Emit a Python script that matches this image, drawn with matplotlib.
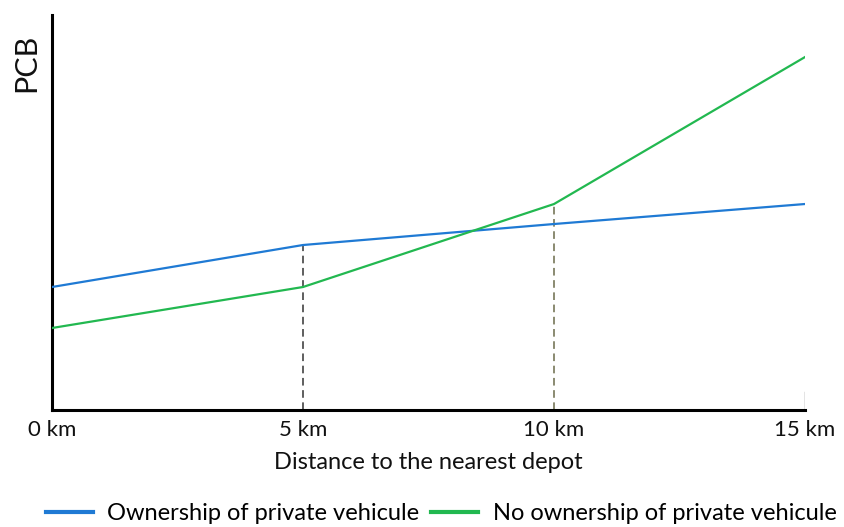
import matplotlib.pyplot as plt
from matplotlib.lines import Line2D

plt.rcParams['font.family'] = ['Lato', 'DejaVu Sans']

# 数据（从图中估读，任意单位）
dist = [0, 5, 10, 15]
tick_labels = ['0 km', '5 km', '10 km', '15 km']
own = [123, 165, 186, 206]      # Ownership of private vehicule
no_own = [82, 123, 206, 353]    # No ownership of private vehicule

blue = '#1f7ad4'
green = '#22b850'

fig = plt.figure(figsize=(8.45, 5.27), dpi=100)
ax = fig.add_axes([0.0615, 0.222, 0.8912, 0.7495])

ax.plot(dist, own, color=blue, lw=1.6, zorder=3)
ax.plot(dist, no_own, color=green, lw=1.6, zorder=3)

# 虚线参考
ax.plot([5, 5], [0, own[1]], color='#333333', lw=1.1, ls=(0, (5, 3)), zorder=2)
ax.plot([10, 10], [0, no_own[2]], color='#6b6b4a', lw=1.1, ls=(0, (5, 3)), zorder=2)
ax.plot([15, 15], [0, 18], color='#777777', lw=1.0, zorder=2)

ax.set_xlim(0, 15)
ax.set_ylim(0, 395)
for s in ['top', 'right']:
    ax.spines[s].set_visible(False)
ax.spines['left'].set_linewidth(2.2)
ax.spines['bottom'].set_linewidth(2.2)
ax.set_yticks([])
ax.set_xticks(dist)
ax.set_xticklabels(tick_labels, fontsize=16, color='#111111')
ax.tick_params(axis='x', length=0, pad=7)

ax.set_xlabel('Distance to the nearest depot', fontsize=17, color='#111111', labelpad=9)
fig.text(0.031, 0.88, 'PCB', rotation=90, fontsize=22, ha='center', va='center', color='#111111')

handles = [Line2D([], [], color=blue, lw=3), Line2D([], [], color=green, lw=3)]
fig.legend(handles, ['Ownership of private vehicule', 'No ownership of private vehicule'],
           loc='center', bbox_to_anchor=(0.522, 0.026), ncol=2, frameon=False,
           fontsize=17, handlelength=2.0, columnspacing=0.5, handletextpad=0.6,
           borderpad=0)

fig.savefig('out.png', dpi=100)
